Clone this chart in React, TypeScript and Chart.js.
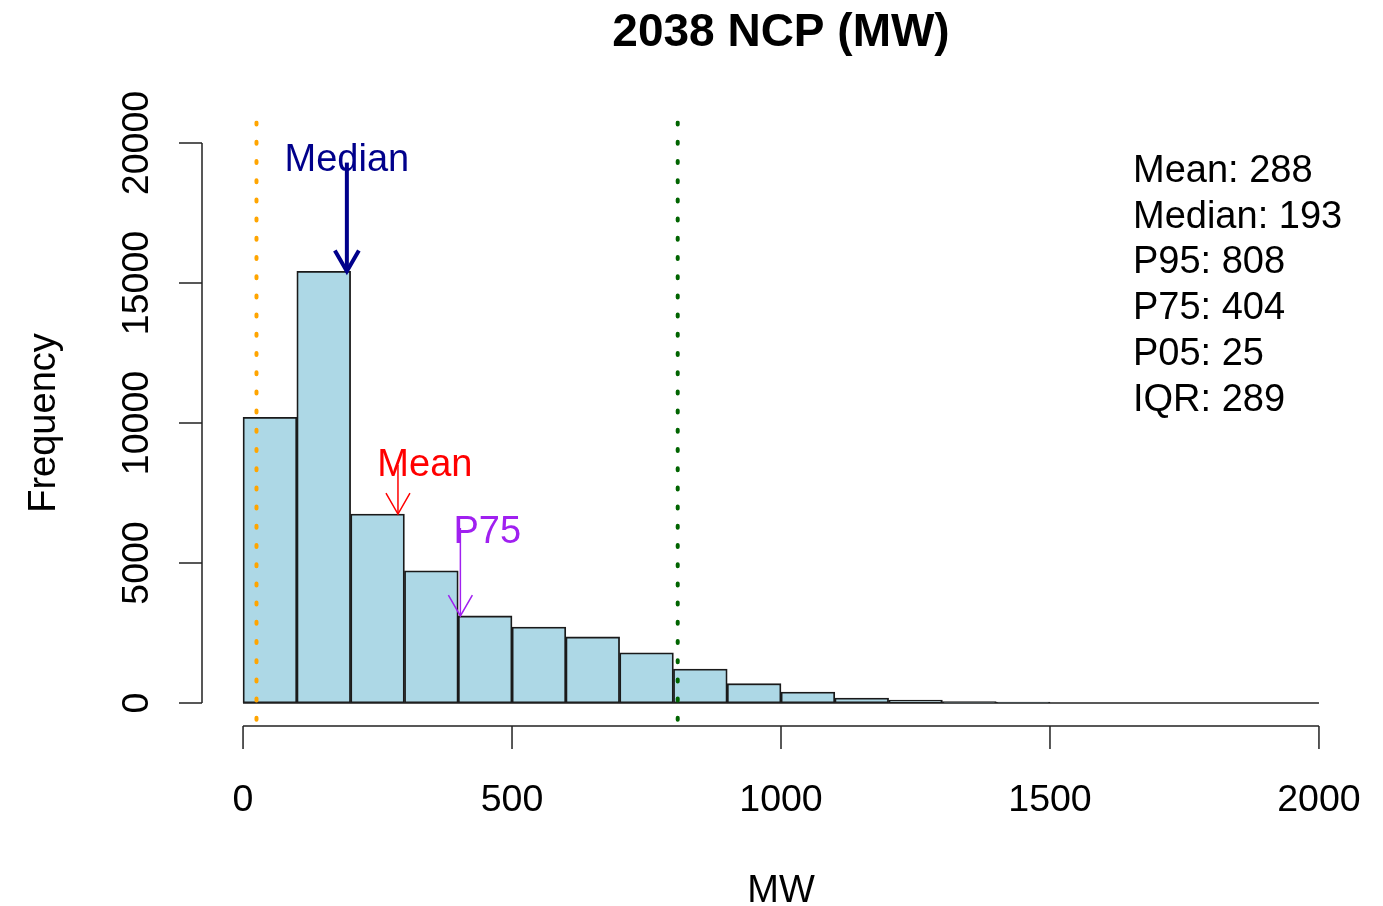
import { useEffect, useRef } from "react";
import { Chart, registerables } from "chart.js";

Chart.register(...registerables);

// Histogram bins (MW) and their counts
const binEdges = [0, 100, 200, 300, 400, 500, 600, 700, 800, 900, 1000, 1100, 1200, 1300, 1400, 1500, 1600, 1700, 1800, 1900, 2000];
const binCounts = [10200, 15420, 6750, 4720, 3110, 2710, 2360, 1790, 1210, 690, 390, 180, 105, 50, 30, 0, 0, 0, 0, 0];

const xTicks = [0, 500, 1000, 1500, 2000];
const yTicks = [0, 5000, 10000, 15000, 20000];

// Summary statistics listed at the top right
const statNames = ["Mean", "Median", "P95", "P75", "P05", "IQR"];
const statValues = [288, 193, 808, 404, 25, 289];

// Arrow markers pointing at the bar holding each statistic
const markerNames = ["Median", "Mean", "P75"];
const markerValues = [193, 288, 404];
const markerColors = ["#00008B", "#FF0000", "#A020F0"];
const markerLabelX = [193, 338, 454];
const markerLabelY = [19500, 8600, 6200];
const markerArrowFromY = [19300, 8500, 6250];
const markerLineWidths = [4, 1.5, 1.5];

// Dotted reference lines: P05 and P95
const refLineValues = [25, 808];
const refLineColors = ["#FFA500", "#006400"];

const FONT = "'Liberation Sans', Arial, Helvetica, sans-serif";
const CAP = 0.716;

function binIndexOf(v: number): number {
  for (let i = 0; i < binEdges.length - 1; i++) {
    if (v >= binEdges[i] && v < binEdges[i + 1]) return i;
  }
  return binCounts.length - 1;
}

const rAxesPlugin = {
  id: "rStyleDecor",
  afterDatasetsDraw(chart: any) {
    const ctx: CanvasRenderingContext2D = chart.ctx;
    const xs = chart.scales.x;
    const ys = chart.scales.y;
    const area = chart.chartArea;

    ctx.save();
    // baseline of the histogram (empty bins drawn flat)
    ctx.strokeStyle = "#222";
    ctx.lineWidth = 1.5;
    ctx.beginPath();
    ctx.moveTo(xs.getPixelForValue(binEdges[0]), ys.getPixelForValue(0));
    ctx.lineTo(xs.getPixelForValue(binEdges[binEdges.length - 1]), ys.getPixelForValue(0));
    ctx.stroke();

    // dotted reference lines
    ctx.beginPath();
    ctx.rect(area.left, area.top, area.right - area.left, area.bottom - area.top);
    ctx.clip();
    refLineValues.forEach((v, i) => {
      const px = xs.getPixelForValue(v);
      ctx.strokeStyle = refLineColors[i];
      ctx.lineWidth = 4;
      ctx.lineCap = "round";
      ctx.setLineDash([2, 17.2]);
      ctx.beginPath();
      ctx.moveTo(px, area.top + 2);
      ctx.lineTo(px, area.bottom);
      ctx.stroke();
    });
    ctx.restore();

    ctx.save();
    ctx.setLineDash([]);
    // arrows and their labels
    markerNames.forEach((name, i) => {
      const x = xs.getPixelForValue(markerValues[i]);
      const y0 = ys.getPixelForValue(markerArrowFromY[i]);
      const y1 = ys.getPixelForValue(binCounts[binIndexOf(markerValues[i])]);
      ctx.strokeStyle = markerColors[i];
      ctx.lineWidth = markerLineWidths[i];
      ctx.lineCap = "butt";
      ctx.beginPath();
      ctx.moveTo(x, y0);
      ctx.lineTo(x, y1);
      ctx.stroke();
      const len = 24;
      const ang = (30 * Math.PI) / 180;
      ctx.beginPath();
      ctx.moveTo(x - len * Math.sin(ang), y1 - len * Math.cos(ang));
      ctx.lineTo(x, y1);
      ctx.lineTo(x + len * Math.sin(ang), y1 - len * Math.cos(ang));
      ctx.stroke();

      ctx.fillStyle = markerColors[i];
      ctx.font = `38px ${FONT}`;
      ctx.textAlign = "center";
      ctx.textBaseline = "alphabetic";
      ctx.fillText(name, xs.getPixelForValue(markerLabelX[i]), ys.getPixelForValue(markerLabelY[i]) + (CAP * 38) / 2);
    });
    ctx.restore();
  },
  afterDraw(chart: any) {
    const ctx: CanvasRenderingContext2D = chart.ctx;
    const xs = chart.scales.x;
    const ys = chart.scales.y;
    const area = chart.chartArea;
    const midX = (area.left + area.right) / 2;
    const midY = (area.top + area.bottom) / 2;

    ctx.save();
    ctx.strokeStyle = "#222";
    ctx.fillStyle = "#000";
    ctx.lineWidth = 1.5;
    ctx.setLineDash([]);

    // x axis
    const axY = area.bottom + 0.5;
    ctx.beginPath();
    ctx.moveTo(xs.getPixelForValue(xTicks[0]), axY);
    ctx.lineTo(xs.getPixelForValue(xTicks[xTicks.length - 1]), axY);
    xTicks.forEach((t) => {
      const px = xs.getPixelForValue(t);
      ctx.moveTo(px, axY);
      ctx.lineTo(px, axY + 23);
    });
    ctx.stroke();
    ctx.font = `37.5px ${FONT}`;
    ctx.textAlign = "center";
    ctx.textBaseline = "alphabetic";
    xTicks.forEach((t) => {
      ctx.fillText(String(t), xs.getPixelForValue(t), 811);
    });

    // y axis
    const axX = area.left + 2;
    ctx.beginPath();
    ctx.moveTo(axX, ys.getPixelForValue(yTicks[0]));
    ctx.lineTo(axX, ys.getPixelForValue(yTicks[yTicks.length - 1]));
    yTicks.forEach((t) => {
      const py = ys.getPixelForValue(t);
      ctx.moveTo(axX, py);
      ctx.lineTo(axX - 23, py);
    });
    ctx.stroke();
    yTicks.forEach((t) => {
      ctx.save();
      ctx.translate(148, ys.getPixelForValue(t));
      ctx.rotate(-Math.PI / 2);
      ctx.fillText(String(t), 0, 0);
      ctx.restore();
    });

    // axis titles
    ctx.font = `38px ${FONT}`;
    ctx.fillText("MW", midX, 902);
    ctx.save();
    ctx.translate(55, midY);
    ctx.rotate(-Math.PI / 2);
    ctx.fillText("Frequency", 0, 0);
    ctx.restore();

    // main title
    ctx.font = `bold 46px ${FONT}`;
    ctx.fillText("2038 NCP (MW)", midX, 46);

    // statistics block
    ctx.font = `38px ${FONT}`;
    ctx.textAlign = "left";
    statNames.forEach((n, i) => {
      ctx.fillText(`${n}: ${statValues[i]}`, 1133, 181.7 + i * 45.8);
    });
    ctx.restore();
  },
};

export default function App() {
  const canvasRef = useRef<HTMLCanvasElement | null>(null);

  useEffect(() => {
    const canvas = canvasRef.current;
    if (!canvas) return;
    const points = binCounts.map((c, i) => ({ x: (binEdges[i] + binEdges[i + 1]) / 2, y: c }));
    const chart = new Chart(canvas, {
      type: "bar",
      data: {
        datasets: [
          {
            data: points as any,
            backgroundColor: "#ADD8E6",
            borderColor: "#1a1a1a",
            borderWidth: 1.8,
            borderSkipped: false,
            barPercentage: 1,
            categoryPercentage: 1,
          },
        ],
      },
      options: {
        responsive: false,
        animation: false,
        devicePixelRatio: 1,
        datasets: { bar: { barPercentage: 1, categoryPercentage: 1 } },
        layout: { padding: { left: 200, right: 21, top: 120.6, bottom: 180.6 } },
        plugins: {
          legend: { display: false },
          tooltip: { enabled: false },
          title: { display: false },
        },
        scales: {
          x: {
            type: "linear",
            min: -80,
            max: 2080,
            offset: false,
            display: false,
            // ticks on the bin edges so bar widths span a full bin
            afterBuildTicks: (scale: any) => {
              scale.ticks = binEdges.map((v) => ({ value: v }));
            },
          },
          y: { type: "linear", min: -800, max: 20800, display: false },
        },
      },
      plugins: [rAxesPlugin],
    });
    return () => chart.destroy();
  }, []);

  return (
    <div style={{ position: "absolute", left: 0, top: 0, width: 1383, height: 906, background: "#fff" }}>
      <canvas ref={canvasRef} width={1383} height={906} />
    </div>
  );
}
